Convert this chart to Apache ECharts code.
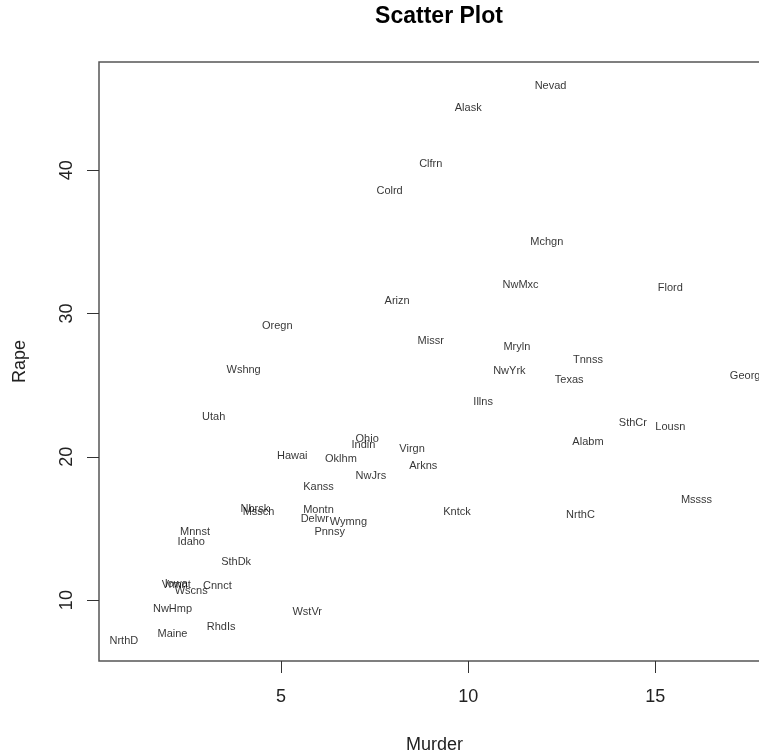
<!DOCTYPE html>
<html>
<head>
<meta charset="utf-8">
<script src="https://cdn.jsdelivr.net/npm/echarts@6/dist/echarts.min.js"></script>
<style>
  html, body { margin: 0; padding: 0; background: #fff; }
  #chart { width: 759px; height: 754px; }
</style>
</head>
<body>
<div id="chart"></div>
<script>
// USArrests: murder vs rape rate per state, drawn as abbreviated state labels
const stateAbbr = ['Alabm','Alask','Arizn','Arkns','Clfrn','Colrd','Cnnct','Delwr','Flord','Georg',
  'Hawai','Idaho','Illns','Indin','Iowa','Kanss','Kntck','Lousn','Maine','Mryln',
  'Mssch','Mchgn','Mnnst','Mssss','Missr','Montn','Nbrsk','Nevad','NwHmp','NwJrs',
  'NwMxc','NwYrk','NrthC','NrthD','Ohio','Oklhm','Oregn','Pnnsy','RhdIs','SthCr',
  'SthDk','Tnnss','Texas','Utah','Vrmnt','Virgn','Wshng','WstVr','Wscns','Wymng'];
const murder = [13.2,10.0,8.1,8.8,9.0,7.9,3.3,5.9,15.4,17.4,
  5.3,2.6,10.4,7.2,2.2,6.0,9.7,15.4,2.1,11.3,
  4.4,12.1,2.7,16.1,9.0,6.0,4.3,12.2,2.1,7.4,
  11.4,11.1,13.0,0.8,7.3,6.6,4.9,6.3,3.4,14.4,
  3.8,13.2,12.7,3.2,2.2,8.5,4.0,5.7,2.6,6.8];
const rape = [21.2,44.5,31.0,19.5,40.6,38.7,11.1,15.8,31.9,25.8,
  20.2,14.2,24.0,21.0,11.3,18.0,16.3,22.2,7.8,27.8,
  16.3,35.1,14.9,17.1,28.2,16.4,16.5,46.0,9.5,18.8,
  32.1,26.1,16.1,7.3,21.4,20.0,29.3,14.9,8.3,22.5,
  12.8,26.9,25.5,22.9,11.2,20.7,26.2,9.3,10.8,15.6];
const xTicks = [5, 10, 15];
const yTicks = [10, 20, 30, 40];

// data range padded by 4% on each side
function padded(arr) {
  const lo = Math.min(...arr), hi = Math.max(...arr), d = (hi - lo) * 0.04;
  return [lo - d, hi + d];
}
const [xMin, xMax] = padded(murder);
const [yMin, yMax] = padded(rape);

const points = stateAbbr.map((n, i) => ({ name: n, value: [murder[i], rape[i]] }));

const FONT = 'Liberation Sans, Arial, sans-serif';
const chart = echarts.init(document.getElementById('chart'), null, { renderer: 'canvas' });
chart.setOption({
  animation: false,
  backgroundColor: '#ffffff',
  title: {
    text: 'Scatter Plot',
    left: 434, top: 0, textAlign: 'center',
    textStyle: { fontFamily: FONT, fontSize: 23, fontWeight: 'bold', color: '#000' }
  },
  // plot region runs past the right edge of the page
  grid: {
    left: 99, top: 62, width: 671, height: 599,
    outerBoundsMode: 'none', containLabel: false,
    show: true, borderColor: '#555', borderWidth: 1.5, backgroundColor: 'transparent'
  },
  xAxis: {
    type: 'value', min: xMin, max: xMax,
    name: 'Murder', nameLocation: 'middle', nameGap: 75,
    nameTextStyle: { fontFamily: FONT, fontSize: 18, color: '#222' },
    axisLine: { show: false },
    splitLine: { show: false },
    axisTick: { show: true, length: 12, customValues: xTicks, lineStyle: { color: '#333', width: 1 } },
    axisLabel: { customValues: xTicks, margin: 27, fontFamily: FONT, fontSize: 18, color: '#222' }
  },
  yAxis: {
    type: 'value', min: yMin, max: yMax,
    name: 'Rape', nameLocation: 'middle', nameGap: 70, nameRotate: 90,
    nameTextStyle: { fontFamily: FONT, fontSize: 18, color: '#222' },
    axisLine: { show: false },
    splitLine: { show: false },
    axisTick: { show: true, length: 12, customValues: yTicks, lineStyle: { color: '#333', width: 1 } },
    axisLabel: { customValues: yTicks, rotate: 90, margin: 23, fontFamily: FONT, fontSize: 18, color: '#222' }
  },
  series: [{
    type: 'scatter',
    data: points,
    symbolSize: 1,
    itemStyle: { color: 'rgba(0,0,0,0)' },
    label: {
      show: true, position: 'inside', offset: [0, 2], formatter: p => p.name,
      fontFamily: FONT, fontSize: 11, color: '#000'
    },
    emphasis: { disabled: true }
  }]
});
</script>
</body>
</html>
